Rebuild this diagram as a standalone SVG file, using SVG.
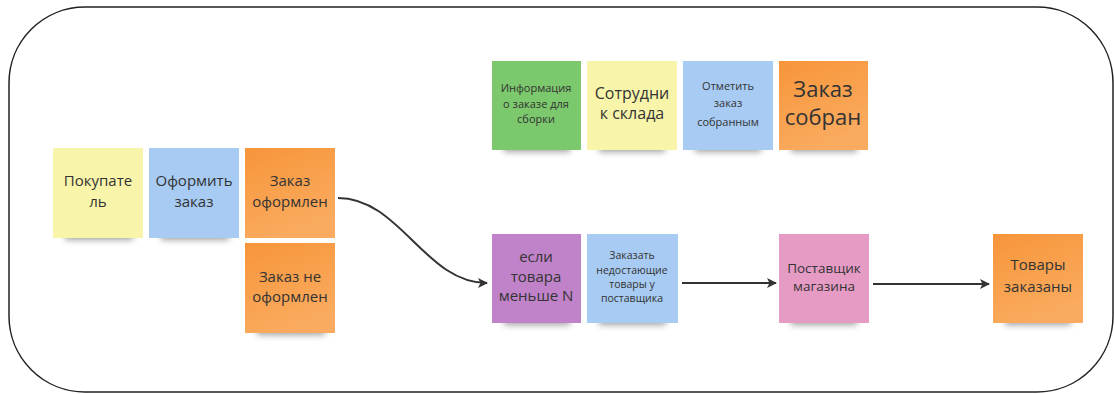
<svg xmlns="http://www.w3.org/2000/svg" width="1114" height="394" viewBox="0 0 1114 394">
<defs>
<filter id="blur" x="-20%" y="-100%" width="140%" height="300%"><feGaussianBlur stdDeviation="3"/></filter>
<linearGradient id="og" x1="0" y1="0" x2="0.4" y2="1"><stop offset="0" stop-color="#f7953a"/><stop offset="1" stop-color="#faab5f"/></linearGradient>
<marker id="ah" viewBox="0 0 10 10" refX="9" refY="5" markerWidth="10" markerHeight="10" markerUnits="userSpaceOnUse" orient="auto"><path d="M0,0 L10,5 L0,10 L2.5,5 Z" fill="#333"/></marker>
</defs>
<style>
.t{font-family:"Open Sans","Noto Sans","Liberation Sans",sans-serif;fill:#333;text-anchor:middle}
.sh{fill:#555;opacity:.55;filter:url(#blur)}
.c{fill:none;stroke:#333;stroke-width:2}
</style>
<rect width="1114" height="394" fill="#fff"/>
<rect x="9" y="7" width="1104" height="385" rx="76" ry="76" fill="none" stroke="#222" stroke-width="1.5"/>
<g id="connectors">
<path class="c" d="M338,198 C400,198 425,283 487,283" marker-end="url(#ah)"/>
<path class="c" d="M682,283 L776,283" marker-end="url(#ah)"/>
<path class="c" d="M873,284 L989,284" marker-end="url(#ah)"/>
</g>
<g id="pokupatel">
<rect class="sh" x="65" y="231" width="68" height="9"/>
<rect x="53" y="148" width="90" height="90" fill="#f8f5aa"/>
<text class="t" x="98" y="186" font-size="15">Покупате</text>
<text class="t" x="98" y="207" font-size="15">ль</text>
</g>
<g id="oformit">
<rect class="sh" x="161" y="231" width="68" height="9"/>
<rect x="149" y="148" width="90" height="90" fill="#a7cbf2"/>
<text class="t" x="194" y="186" font-size="15">Оформить</text>
<text class="t" x="194" y="207" font-size="15">заказ</text>
</g>
<g id="zakaz-oformlen">
<rect x="245" y="148" width="90" height="90" fill="url(#og)"/>
<text class="t" x="290" y="186" font-size="15">Заказ</text>
<text class="t" x="290" y="207" font-size="15">оформлен</text>
</g>
<g id="zakaz-ne-oformlen">
<rect class="sh" x="257" y="326" width="68" height="9"/>
<rect x="245" y="243" width="90" height="90" fill="url(#og)"/>
<text class="t" x="290" y="282" font-size="15">Заказ не</text>
<text class="t" x="290" y="302" font-size="15">оформлен</text>
</g>
<g id="info">
<rect class="sh" x="504" y="143" width="66" height="9"/>
<rect x="492" y="61" width="89" height="89" fill="#7cc86d"/>
<text class="t" x="536" y="92" font-size="11">Информация</text>
<text class="t" x="536" y="107.5" font-size="11">о заказе для</text>
<text class="t" x="536" y="123" font-size="11">сборки</text>
</g>
<g id="sotrudnik">
<rect class="sh" x="599" y="143" width="66" height="9"/>
<rect x="587" y="61" width="90" height="89" fill="#f8f5aa"/>
<text class="t" x="632" y="99" font-size="16">Сотрудни</text>
<text class="t" x="632" y="119" font-size="16">к склада</text>
</g>
<g id="otmetit">
<rect class="sh" x="695" y="143" width="66" height="9"/>
<rect x="683" y="61" width="90" height="89" fill="#a7cbf2"/>
<text class="t" x="728" y="90" font-size="11">Отметить</text>
<text class="t" x="728" y="107" font-size="11">заказ</text>
<text class="t" x="728" y="126" font-size="11">собранным</text>
</g>
<g id="zakaz-sobran">
<rect class="sh" x="791" y="143" width="66" height="9"/>
<rect x="779" y="61" width="89" height="89" fill="url(#og)"/>
<text class="t" x="823" y="97" font-size="22">Заказ</text>
<text class="t" x="823" y="125" font-size="22">собран</text>
</g>
<g id="esli">
<rect class="sh" x="504" y="316" width="66" height="9"/>
<rect x="492" y="234" width="89" height="89" fill="#c083c9"/>
<text class="t" x="536" y="262" font-size="15">если</text>
<text class="t" x="536" y="282" font-size="15">товара</text>
<text class="t" x="536" y="301" font-size="15">меньше N</text>
</g>
<g id="zakazat">
<rect class="sh" x="599" y="316" width="67" height="9"/>
<rect x="587" y="234" width="91" height="89" fill="#a7cbf2"/>
<text class="t" x="632" y="259" font-size="10.5">Заказать</text>
<text class="t" x="632" y="274" font-size="10.5">недостающие</text>
<text class="t" x="632" y="288" font-size="10.5">товары у</text>
<text class="t" x="632" y="302" font-size="10.5">поставщика</text>
</g>
<g id="postavshik">
<rect class="sh" x="791" y="316" width="66" height="9"/>
<rect x="779" y="234" width="90" height="89" fill="#e69bc5"/>
<text class="t" x="824" y="273" font-size="13.5">Поставщик</text>
<text class="t" x="824" y="291" font-size="13.5">магазина</text>
</g>
<g id="tovary">
<rect class="sh" x="1005" y="316" width="66" height="9"/>
<rect x="993" y="234" width="90" height="89" fill="url(#og)"/>
<text class="t" x="1038" y="270" font-size="15">Товары</text>
<text class="t" x="1038" y="292" font-size="15">заказаны</text>
</g>
</svg>
